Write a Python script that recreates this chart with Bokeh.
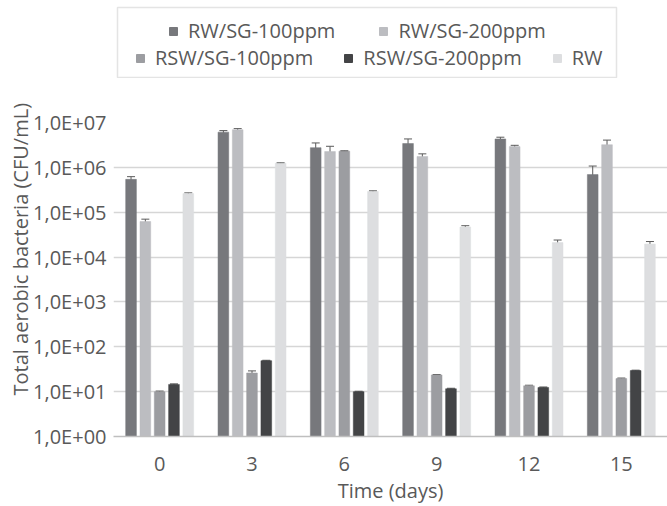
from bokeh.plotting import figure
from bokeh.layouts import column
from bokeh.models import (ColumnDataSource, FactorRange, Range1d, FixedTicker, Whisker,
                          TeeHead, Legend, LegendItem, Title, BoxAnnotation)
from bokeh.transform import dodge
from bokeh.embed import file_html
from bokeh.resources import INLINE

# ---- data ----
days = ["0", "3", "6", "9", "12", "15"]
series_names = ["RW/SG-100ppm", "RW/SG-200ppm", "RSW/SG-100ppm", "RSW/SG-200ppm", "RW"]
rw_sg100 = [5.4e5, 6.1e6, 2.75e6, 3.4e6, 4.3e6, 6.9e5]
rw_sg100_err = [0.8e5, 0.5e6, 0.75e6, 0.9e6, 0.4e6, 3.8e5]
rw_sg200 = [6.2e4, 6.9e6, 2.25e6, 1.75e6, 2.9e6, 3.2e6]
rw_sg200_err = [0.8e4, 0.4e6, 0.7e6, 0.25e6, 0.2e6, 0.85e6]
rsw_sg100 = [10, 26, 2.3e6, 23.6, 13.5, 19.6]
rsw_sg100_err = [0.3, 3, 0.05e6, 0.5, 0.4, 0.5]
rsw_sg200 = [14.5, 49, 10, 11.6, 12.4, 29.5]
rsw_sg200_err = [0.4, 1, 0.2, 0.3, 0.3, 0.6]
rw = [2.6e5, 1.24e6, 2.9e5, 4.7e4, 2.1e4, 1.95e4]
rw_err = [0.1e5, 0.03e6, 0.1e5, 0.3e4, 0.3e4, 0.27e4]
y_ticks = [1, 10, 100, 1000, 10000, 100000, 1000000, 10000000]
y_tick_labels = ["1,0E+00", "1,0E+01", "1,0E+02", "1,0E+03",
                 "1,0E+04", "1,0E+05", "1,0E+06", "1,0E+07"]

values = [rw_sg100, rw_sg200, rsw_sg100, rsw_sg200, rw]
errors = [rw_sg100_err, rw_sg200_err, rsw_sg100_err, rsw_sg200_err, rw_err]

# ---- styles ----
colors = ["#77787c", "#bcbdc1", "#9c9da1", "#434446", "#dddee0"]
offsets = [-0.31, -0.155, 0.0, 0.155, 0.31]
bar_w = 0.116
FONT = "Open Sans"
TXT = "#595959"
FS = "20px"
NAN = float("nan")

# ---------------- legend box (separate small figure, frame aligned with chart) ----------------
lf = figure(width=667, height=78, x_range=Range1d(0, 1), y_range=Range1d(0, 1),
            output_backend="svg", toolbar_location=None,
            x_axis_location=None, y_axis_location=None,
            min_border_left=113, min_border_right=0, min_border_top=0, min_border_bottom=0)
lf.grid.visible = False
lf.outline_line_color = None
proxies = [lf.vbar(x=[NAN], top=[NAN], width=0.1, fill_color=c, line_color=c) for c in colors]


def make_legend(idx, loc, spacing):
    return Legend(items=[LegendItem(label=series_names[i], renderers=[proxies[i]]) for i in idx],
                  location=loc, orientation="horizontal", padding=0, margin=0, spacing=spacing,
                  glyph_width=10, glyph_height=10, label_standoff=10,
                  label_text_font=FONT, label_text_font_size=FS, label_text_color=TXT,
                  border_line_color=None, background_fill_alpha=0)


lf.add_layout(make_legend([0, 1], (55, 34), 43))
lf.add_layout(make_legend([2, 3, 4], (22, 7), 30))
lf.add_layout(BoxAnnotation(left=117, right=616, top=7, bottom=77,
                            left_units="canvas", right_units="canvas",
                            top_units="canvas", bottom_units="canvas",
                            fill_alpha=0, line_color="#a6a6a6", line_width=1.5))

# ---------------- main chart ----------------
p = figure(x_range=FactorRange(*days), y_range=Range1d(1, 1e7), y_axis_type="log",
           width=667, height=428, output_backend="svg", toolbar_location=None,
           min_border_left=113, min_border_right=0, min_border_top=44, min_border_bottom=68)
p.outline_line_color = None

for name, vals, errs, col, off in zip(series_names, values, errors, colors, offsets):
    src = ColumnDataSource(dict(
        day=days, top=vals,
        upper=[v + e for v, e in zip(vals, errs)],
        lower=[v - e for v, e in zip(vals, errs)],
    ))
    p.vbar(x=dodge("day", off, range=p.x_range), top="top", bottom=1, width=bar_w,
           source=src, fill_color=col, line_color=col, line_width=0.5)
    p.add_layout(Whisker(base=dodge("day", off, range=p.x_range), upper="upper", lower="lower",
                         source=src, line_color="#5a5a5a", line_width=1,
                         upper_head=TeeHead(size=8, line_color="#5a5a5a", line_width=1),
                         lower_head=TeeHead(size=8, line_color="#5a5a5a", line_width=1)))

p.yaxis.ticker = FixedTicker(ticks=y_ticks, minor_ticks=[])
p.yaxis.major_label_overrides = dict(zip(y_ticks, y_tick_labels))
p.yaxis.axis_line_color = None
p.yaxis.major_tick_line_color = None
p.yaxis.minor_tick_line_color = None
p.yaxis.major_tick_out = 0
p.yaxis.major_tick_in = 0
p.yaxis.major_label_standoff = 7
p.yaxis.axis_label_standoff = 0
p.xaxis.axis_label = "Time (days)"
p.xaxis.axis_line_color = "#bfbfbf"
p.xaxis.axis_line_width = 1.5
p.xaxis.major_tick_line_color = None
p.xaxis.minor_tick_line_color = None
p.xaxis.major_tick_out = 0
p.xaxis.major_label_standoff = 20
p.xaxis.axis_label_standoff = 3
for ax in (p.xaxis, p.yaxis):
    ax.major_label_text_font = FONT
    ax.major_label_text_font_size = FS
    ax.major_label_text_color = TXT
    ax.axis_label_text_font = FONT
    ax.axis_label_text_font_size = FS
    ax.axis_label_text_font_style = "normal"
    ax.axis_label_text_color = TXT

p.add_layout(Title(text="Total aerobic bacteria (CFU/mL)", align="left", offset=41,
                   standoff=-7, text_font=FONT, text_font_size="20px",
                   text_font_style="normal", text_color=TXT), "left")

p.xgrid.grid_line_color = None
p.ygrid.grid_line_color = "#d6d6d6"
p.ygrid.grid_line_width = 1.5

layout = column(lf, p, spacing=0)
open("out.html", "w").write(file_html(layout, INLINE))
